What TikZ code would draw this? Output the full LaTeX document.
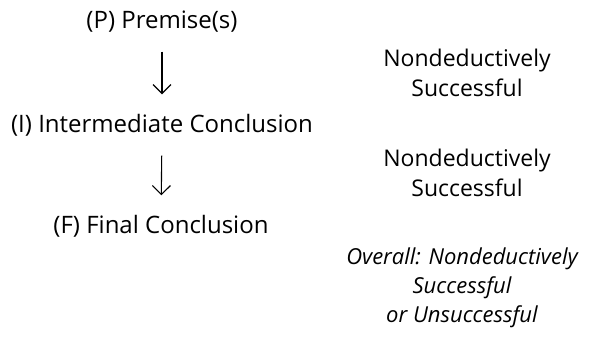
\documentclass[tikz,border=0pt]{standalone}
\usepackage{fontspec}
\setmainfont{Open Sans}
\usetikzlibrary{arrows.meta}

\tikzset{
  claim/.style={inner sep=0pt, text height=18pt, text depth=5pt, font=\fontsize{24}{30}\selectfont},
  verdict/.style={align=center, inner sep=0pt, font=\fontsize{23}{30}\selectfont},
  infer/.style={-{Straight Barb[length=9pt,width=18pt]}, line width=1.1pt, shorten <=18pt, shorten >=20pt},
}

\begin{document}
\begin{tikzpicture}[x=1pt,y=-1pt]
  \useasboundingbox (0,0) rectangle (590,346);                 % canvas
  \node[claim] (prem)  at (162,22)  {(P) Premise(s)};
  \node[claim] (inter) at (162,126) {(I) Intermediate Conclusion};
  \node[claim] (final) at (161,227) {(F) Final Conclusion};
  \draw[infer] (prem) -- (inter);
  \draw[infer] (inter) -- (final);
  \node[verdict] (stepone) at (467,73)  {Nondeductively\\Successful};
  \node[verdict] (steptwo) at (467,173) {Nondeductively\\Successful};
  \node[verdict, font=\fontsize{22}{29}\selectfont\itshape] (overall) at (462,288)
    {Overall: Nondeductively\\Successful\\or Unsuccessful};
\end{tikzpicture}
\end{document}
